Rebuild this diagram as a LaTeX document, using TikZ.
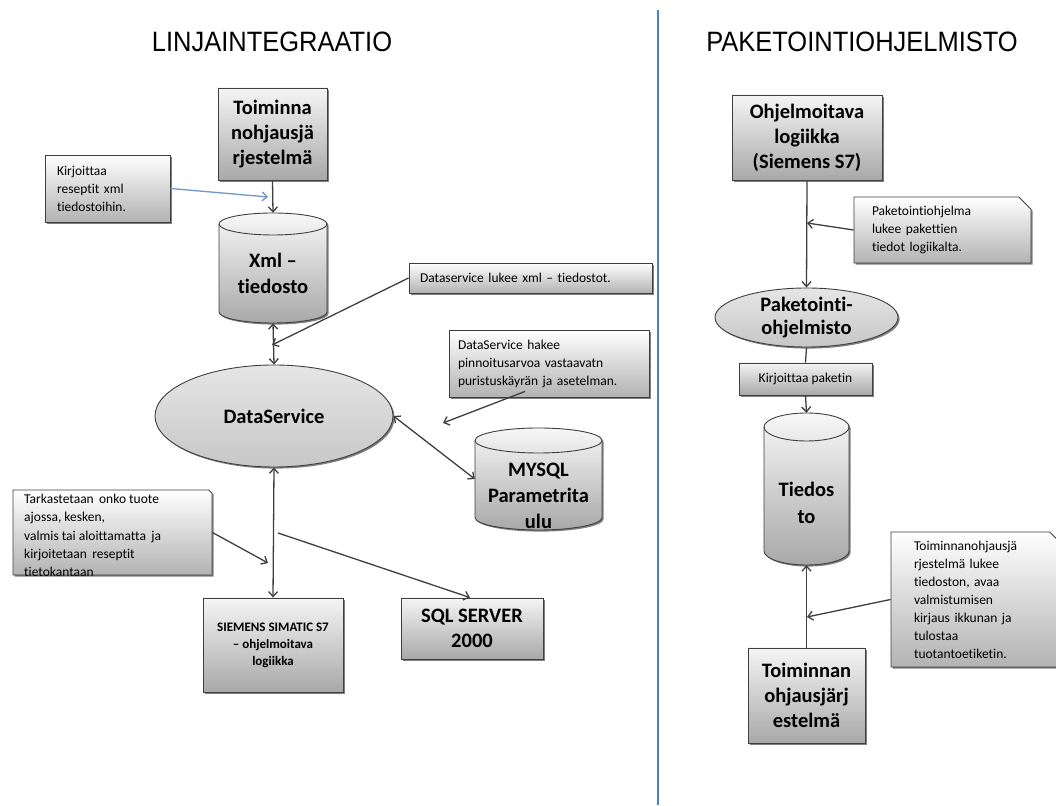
\documentclass[tikz,border=0pt]{standalone}
\usepackage{fontspec}
\setmainfont[Ligatures=NoCommon]{Carlito}
\newfontfamily\titlefont{Liberation Sans}
\usetikzlibrary{arrows.meta,shapes.geometric,shapes.misc,shadows}

\definecolor{edge}{HTML}{3F3F3F}
\definecolor{divider}{HTML}{4F81BD}
\definecolor{bluearrow}{HTML}{6F97C8}

\tikzset{
  shd/.style={drop shadow={shadow xshift=1.6pt,shadow yshift=-1.6pt,fill=black,opacity=0.5}},
  procbox/.style={rectangle, draw=edge, line width=0.9pt, top color=black!4, bottom color=black!34,
    shd, font=\bfseries\fontsize{20.5}{25}\selectfont, align=center, inner sep=0pt},
  oval/.style={ellipse, draw=edge, line width=0.9pt, top color=black!10, bottom color=black!22,
    shd, font=\bfseries\fontsize{20.5}{23}\selectfont, align=center, inner sep=0pt},
  notebox/.style={rectangle, draw=edge, line width=0.9pt, top color=white, bottom color=black!30,
    shd, font=\fontsize{13.5}{18}\selectfont, align=left, inner ysep=0pt},
  foldnote/.style={chamfered rectangle, chamfered rectangle corners=north east,
    chamfered rectangle xsep=#1, draw=edge, line width=0.9pt, top color=white, bottom color=black!30,
    shd, font=\fontsize{13.5}{18}\selectfont, align=left, inner ysep=0pt},
  cyltext/.style={font=\bfseries\fontsize{20.5}{26}\selectfont, align=center, inner sep=0pt},
  anchorbox/.style={rectangle, inner sep=0pt},
  cylfill/.style={draw=edge, line width=0.9pt, top color=black!3, bottom color=black!34},
  conn/.style={draw=edge, line width=1.3pt, -{Straight Barb[length=5pt,width=9pt]}},
  dconn/.style={draw=edge, line width=1.3pt, {Straight Barb[length=5pt,width=9pt]}-{Straight Barb[length=5pt,width=9pt]}},
  plainconn/.style={draw=edge, line width=1.3pt},
  titletext/.style={font=\titlefont\fontsize{28}{30}\selectfont, inner sep=0pt},
}

\newcommand\cylshape[5]{%
  \path[fill=black,opacity=.5,shift={(1.6,-1.6)}] ({#1-#3},{#2+#4-#5}) -- ({#1-#3},{#2-#4+#5})
    arc[start angle=180,end angle=360,x radius=#3,y radius=#5] -- ({#1+#3},{#2+#4-#5})
    arc[start angle=0,end angle=180,x radius=#3,y radius=#5] -- cycle;
  \path[cylfill] ({#1-#3},{#2+#4-#5}) -- ({#1-#3},{#2-#4+#5})
    arc[start angle=180,end angle=360,x radius=#3,y radius=#5] -- ({#1+#3},{#2+#4-#5})
    arc[start angle=0,end angle=180,x radius=#3,y radius=#5] -- cycle;
  \draw[edge,line width=0.9pt] ({#1-#3},{#2+#4-#5})
    arc[start angle=180,end angle=360,x radius=#3,y radius=#5];
}

\begin{document}
\begin{tikzpicture}[x=1pt,y=1pt]
\useasboundingbox[fill=white] (0,0) rectangle (1056,805);

% titles and divider
\node[titletext] (t1) at (272,763) {\scalebox{0.91}[1]{LINJAINTEGRAATIO}};
\node[titletext] (t2) at (862,763) {\scalebox{0.91}[1]{PAKETOINTIOHJELMISTO}};
\coordinate (dtop) at (658,795);
\coordinate (dbot) at (658,0);
\draw[divider, line width=1.3pt] (dtop) -- (dbot);

% ---------- left part ----------
\node[procbox, minimum width=109, minimum height=92] (toim) at (272.5,671) {Toiminna\\nohjausjä\\rjestelmä};

\node[notebox, minimum width=125, minimum height=67, text width=101, inner xsep=12pt] (kirj) at (107.5,616.5)
  {Kirjoittaa\\reseptit xml\\tiedostoihin.};

\cylshape{273}{537}{54}{55}{11}
\node[anchorbox, minimum width=108, minimum height=110] (xml) at (273,537) {};
\node[cyltext] (xmlt) at (273,532) {Xml –\\tiedosto};

\node[notebox, minimum width=243, minimum height=30, text width=221, inner xsep=11pt] (dsn) at (530.5,527)
  {Dataservice lukee xml – tiedostot.};

\node[oval, minimum width=238, minimum height=102] (ds) at (274,389) {DataService};

\node[notebox, minimum width=200, minimum height=67, text width=182, inner xsep=9pt] (dsh) at (549,441.5)
  {DataService hakee\\pinnoitusarvoa vastaavatn\\puristuskäyrän ja asetelman.};

\cylshape{538.5}{326}{63.5}{51}{12.5}
\node[anchorbox, minimum width=127, minimum height=102] (mysql) at (538.5,326) {};
\node[cyltext] (mysqlt) at (538.5,309) {MYSQL\\Parametrita\\ulu};

\node[foldnote=9pt, minimum width=199, minimum height=85] (tark) at (112.5,272.5) {};
\node[anchor=north west, inner sep=0pt, font=\fontsize{13.5}{18.3}\selectfont, align=left] (tarkt) at (24,311)
  {Tarkastetaan\, onko tuote\\ajossa, kesken,\\valmis tai aloittamatta\, ja\\kirjoitetaan\, reseptit\\tietokantaan};

\node[procbox, minimum width=140, minimum height=94, font=\bfseries\fontsize{13}{17}\selectfont] (siem) at (273,160)
  {SIEMENS SIMATIC S7\\– ohjelmoitava\\logiikka};

\node[procbox, minimum width=142, minimum height=61] (sql) at (472,176.5) {SQL SERVER\\2000};

% free ends
\coordinate (b1) at (268,608);
\coordinate (c1) at (272,460);
\coordinate (c2) at (443,382);
\coordinate (c3) at (268,242);
\coordinate (c4) at (278,272);

% connectors left
\draw[conn, draw=bluearrow] (kirj.east) -- (b1);
\draw[conn] (toim.south) -- (xml.north);
\draw[dconn] (xml.south) -- (ds.north);
\draw[conn] (dsn.west) -- (c1);
\draw[conn] ([xshift=-24pt,yshift=6pt]dsh.south) -- (c2);
\draw[dconn] (ds.east) -- (mysql.west);
\draw[dconn] (ds.south) -- (siem.north);
\draw[conn] (tark.east) -- (c3);
\draw[conn] (c4) -- ([xshift=-2pt]sql.north);

% ---------- right part ----------
\node[procbox, minimum width=150, minimum height=85] (ohj) at (807,667.5) {Ohjelmoitava\\logiikka\\(Siemens S7)};

\node[foldnote=9pt, minimum width=159, minimum height=66, text width=141, inner xsep=9pt] (pn) at (942.5,575)
  {Paketointiohjelma\\lukee pakettien\\tiedot logiikalta.};

\node[oval, minimum width=183, minimum height=59] (pak) at (806.5,487.5) {Paketointi-\\ohjelmisto};

\node[procbox, minimum width=133, minimum height=32, font=\fontsize{13.5}{16}\selectfont] (kp) at (805.5,426) {Kirjoittaa paketin};

\cylshape{806.5}{316}{42.5}{76}{14}
\node[anchorbox, minimum width=85, minimum height=152] (ted) at (806.5,316) {};
\node[cyltext, font=\bfseries\fontsize{20.5}{27}\selectfont] (tedt) at (806.5,302) {Tiedos\\to};

\node[foldnote=14pt, minimum width=148, minimum height=135, text width=130, inner xsep=9pt] (tn) at (979,205.5)
  {Toiminnanohjausjä\\rjestelmä lukee\\tiedoston, avaa\\valmistumisen\\kirjaus ikkunan ja\\tulostaa\\tuotantoetiketin.};

\node[procbox, minimum width=117, minimum height=95] (tm) at (806.5,109.5) {Toiminnan\\ohjausjärj\\estelmä};

\coordinate (c5) at (807,582);
\coordinate (c6) at (807,188);

% connectors right
\draw[conn] (ohj.south) -- (pak.north);
\draw[conn] (pn.west) -- (c5);
\draw[plainconn] (pak.south) -- (kp.north);
\draw[conn] (kp.south) -- (ted.north);
\draw[conn] (tm.north) -- (ted.south);
\draw[conn] (tn.west) -- (c6);
\end{tikzpicture}
\end{document}
